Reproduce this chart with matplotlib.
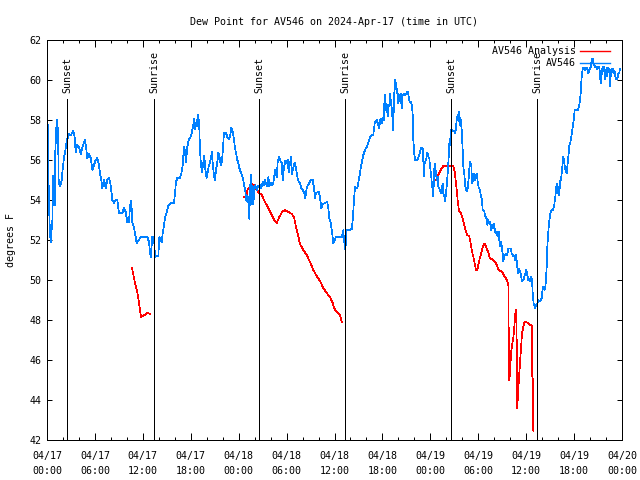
import numpy as np
import pandas as pd
import matplotlib
matplotlib.use('Agg')
import matplotlib.pyplot as plt
import matplotlib.dates as mdates
from matplotlib.lines import Line2D

# ==========================================
# DATA (hours after 2024-04-17 00:00 UTC, dew point in F)
# ==========================================
START = pd.Timestamp("2024-04-17 00:00")
END = pd.Timestamp("2024-04-20 00:00")

obs_hours = [
    0.08, 0.13, 0.25, 0.38, 0.50, 0.54, 0.67, 0.79, 0.88, 0.96, 1.04, 1.21, 1.30, 1.38, 1.46, 1.58,
    1.71, 1.84, 2.00, 2.13, 2.34, 2.46, 2.55, 2.75, 2.96, 3.17, 3.30, 3.46, 3.59, 3.80, 4.01, 4.22,
    4.42, 4.72, 4.84, 5.05, 5.26, 5.47, 5.68, 5.89, 6.09, 6.30, 6.51, 6.64, 6.80, 6.93, 7.14, 7.35,
    7.55, 7.76, 7.97, 8.18, 8.39, 8.60, 8.81, 8.89, 9.02, 9.43, 9.64, 9.85, 10.06, 10.27, 10.39,
    10.56, 10.68, 10.89, 11.10, 11.23, 11.52, 11.73, 12.15, 12.56, 12.77, 12.98, 13.19, 13.40,
    13.52, 13.65, 13.94, 14.07, 14.23, 14.36, 14.48, 14.65, 14.78, 14.98, 15.19, 15.40, 15.61,
    15.90, 16.03, 16.15, 16.32, 16.65, 16.86, 16.99, 17.15, 17.24, 17.32, 17.41, 17.57, 17.74,
    17.91, 18.12, 18.32, 18.45, 18.57, 18.74, 18.87, 18.95, 19.07, 19.16, 19.28, 19.41, 19.58,
    19.70, 19.83, 19.99, 20.08, 20.24, 20.41, 20.58, 20.66, 20.74, 20.91, 21.04, 21.16, 21.33,
    21.45, 21.58, 21.75, 21.91, 22.08, 22.16, 22.41, 22.58, 22.75, 22.92, 23.08, 23.25, 23.42,
    23.54, 23.67, 23.83, 23.96, 24.08, 24.25, 24.42, 24.58, 24.71, 24.84, 24.92, 25.00,
    25.09, 25.21, 25.34, 25.42, 25.54, 25.63, 25.75, 25.84, 25.96, 26.09, 26.25, 26.46, 26.67,
    26.84, 27.01, 27.17, 27.30, 27.51, 27.72, 27.84, 28.01, 28.17, 28.34, 28.47, 28.59, 28.76,
    28.88, 29.05, 29.18, 29.39, 29.51, 29.68, 29.84, 30.01, 30.14, 30.26, 30.43, 30.55, 30.68,
    30.85, 31.01, 31.18, 31.35, 31.51, 31.68, 31.85, 32.02, 32.18, 32.35, 32.52, 32.68, 32.85,
    33.02, 33.27, 33.43, 33.56, 33.68, 34.02, 34.18, 34.35, 34.52, 35.10, 35.23, 35.35, 35.52,
    35.69, 35.85, 36.02, 36.19, 36.90, 37.11, 37.19, 37.23, 37.27, 37.32, 37.36, 37.53,
    37.94, 38.15, 38.28, 38.36, 38.44, 38.57, 38.69, 38.86, 38.98, 39.11, 39.19, 39.32, 39.44,
    39.61, 39.82, 40.03, 40.24, 40.45, 40.66, 40.86, 40.95, 41.07, 41.28, 41.49, 41.61, 41.70,
    41.82, 41.95, 42.03, 42.16, 42.24, 42.32, 42.45, 42.53, 42.66, 42.78, 42.87, 42.95, 43.08,
    43.20, 43.33, 43.41, 43.49, 43.62, 43.70, 43.79, 43.87, 43.99, 44.12, 44.29, 44.41, 44.54,
    44.70, 44.87, 45.04, 45.16, 45.29, 45.41, 45.58, 45.71, 45.79, 45.87, 46.00, 46.12, 46.37,
    46.54, 46.71, 46.87, 47.04, 47.12, 47.21, 47.29, 47.46, 47.62, 47.75, 47.87, 47.96, 48.08,
    48.21, 48.38, 48.46, 48.54, 48.63, 48.71, 48.79, 48.92, 49.00, 49.13, 49.21, 49.34, 49.46,
    49.55, 49.63, 49.75, 49.88, 49.96, 50.05, 50.17, 50.30, 50.38,
    50.46, 50.55, 50.63, 50.96, 51.09, 51.21, 51.30, 51.42, 51.55, 51.63, 51.72, 51.80, 51.93,
    52.05, 52.13, 52.26, 52.38, 52.55, 52.68, 52.80, 52.89, 53.01, 53.14, 53.22, 53.34, 53.47,
    53.59, 53.72, 53.80, 53.93, 54.05, 54.22, 54.35, 54.47, 54.55, 54.76, 54.89, 55.06, 55.14,
    55.26, 55.39, 55.47, 55.60, 55.72, 55.85, 55.97, 56.10, 56.22, 56.31, 56.43, 56.56, 56.64,
    56.72, 56.81, 56.89, 56.97, 57.06, 57.14, 57.23, 57.35, 57.48, 57.64, 57.77, 58.06, 58.19,
    58.31, 58.39, 58.52, 58.64, 58.73, 58.89, 58.98, 59.10, 59.23, 59.35, 59.48, 59.65, 59.77,
    59.90, 60.02, 60.15, 60.27, 60.40, 60.48, 60.61, 60.73,
    60.82, 60.94, 61.11, 61.23, 61.40, 61.53, 61.65, 61.82, 61.94, 62.07, 62.15, 62.28, 62.40,
    62.48, 62.57, 62.65, 62.74, 62.82, 62.99, 63.11, 63.32, 63.49, 63.65, 63.78, 63.86, 63.99,
    64.07, 64.15, 64.24, 64.36, 64.45, 64.57, 64.66, 64.74, 64.86, 64.99, 65.07, 65.20, 65.32,
    65.41, 65.53, 65.66, 65.78, 65.91, 65.99, 66.07, 66.32, 66.49, 66.62, 66.74, 66.83, 66.91,
    66.99, 67.08, 67.16, 67.28, 67.41, 67.58, 67.70, 67.79, 67.91, 67.99, 68.12, 68.20, 68.33,
    68.41, 68.54, 68.66, 68.79, 68.91, 69.04, 69.16, 69.25, 69.33, 69.41, 69.50, 69.58, 69.66,
    69.75, 69.83, 69.91, 70.00, 70.08, 70.16, 70.25, 70.33, 70.41, 70.50, 70.58, 70.66, 70.75,
    70.83, 70.91, 71.00, 71.08, 71.16, 71.25, 71.41, 71.54, 71.66, 71.75, 71.83,
]
obs_dewpt = [
    57.85, 56.5, 53.75, 52.25, 51.9, 52.3, 53.0, 55.2, 54.8, 53.75, 56.4, 58.0, 57.3, 57.6, 55.0, 54.7,
    54.8, 55.0, 55.7, 56.1, 56.6, 56.95, 57.05, 57.3, 57.25, 57.35, 57.45, 57.15, 56.4, 56.75, 56.65, 56.3,
    56.6, 57.0, 56.8, 56.1, 56.3, 56.1, 55.5, 55.75, 56.0, 56.1, 55.75, 55.3, 55.0, 54.6, 55.0, 54.6,
    55.0, 55.1, 54.75, 54.0, 53.85, 54.0, 54.0, 53.7, 53.35, 53.35, 53.6, 53.4, 52.9, 52.9, 53.7,
    53.95, 52.9, 52.65, 52.15, 51.85, 52.0, 52.15, 52.15, 52.15, 51.9, 51.15, 52.15, 52.17,
    51.15, 51.2, 51.2, 52.15, 52.0, 51.9, 52.3, 52.75, 53.1, 53.4, 53.7, 53.8, 53.85,
    53.85, 54.35, 54.9, 55.1, 55.1, 55.4, 55.75, 56.65, 56.25, 56.5, 55.9, 56.65, 57.0,
    57.1, 57.35, 57.75, 58.05, 57.55, 58.0, 57.7, 58.25, 57.6, 56.5, 55.75, 55.4, 55.9,
    56.2, 55.5, 55.1, 55.3, 55.65, 55.9, 56.2, 56.4, 55.9, 55.2, 55.0, 55.5, 55.9,
    56.35, 56.25, 55.75, 55.9, 56.85, 57.35, 57.35, 57.15, 57.05, 57.15, 57.6, 57.4, 57.0,
    56.6, 56.35, 56.0, 55.85, 55.6, 55.4, 55.25, 55.0, 54.7, 54.4, 54.0, 54.25,
    53.9, 54.15, 53.05, 54.5, 55.25, 53.8, 54.7, 53.8, 54.5, 54.75, 54.5, 54.7, 54.75,
    54.6, 54.9, 54.75, 55.0, 54.7, 55.15, 54.7, 54.85, 54.75, 54.85, 55.25, 55.5, 55.15,
    55.85, 56.15, 56.0, 55.85, 55.0, 55.65, 55.95, 55.85, 56.0, 55.4, 55.85, 56.15, 55.3,
    55.65, 55.85, 55.6, 55.15, 54.9, 54.85, 54.6, 54.5, 54.4, 54.1, 54.6, 54.75, 54.85,
    55.0, 55.0, 54.6, 54.1, 54.35, 54.4, 54.15, 53.6, 53.8, 53.9, 53.55, 53.1, 52.85,
    52.4, 51.85, 52.0, 52.15, 52.15, 52.5, 51.9, 52.2, 51.8, 52.1, 51.5, 52.5,
    52.5, 52.55, 53.0, 53.5, 54.0, 54.67, 54.6, 54.6, 54.85, 55.17, 55.33, 55.67, 55.9,
    56.25, 56.5, 56.65, 56.87, 57.13, 57.25, 57.25, 57.58, 57.92, 58.0, 57.75, 57.6, 58.0,
    58.08, 57.85, 58.13, 58.0, 58.83, 59.25, 58.5, 58.8, 58.17, 58.75, 58.67, 59.33, 58.83,
    58.5, 57.5, 58.5, 59.33, 60.03, 59.67, 59.33, 59.58, 58.83, 59.17, 59.33, 58.58, 59.25,
    59.33, 59.25, 59.37, 59.42, 59.17, 58.9, 58.9, 58.67, 58.25, 57.0, 56.25, 56.0, 56.0,
    56.17, 56.42, 56.63, 56.58, 56.0, 55.17, 55.83, 56.0, 56.37, 56.17, 56.08, 55.67, 55.33,
    54.75, 54.17, 55.33, 55.83, 55.58, 55.33, 55.0, 55.17, 54.67, 54.58, 54.5, 54.33, 54.58,
    54.83, 54.33, 54.2, 53.92, 54.42, 54.67, 55.33, 56.17, 56.83,
    56.75, 57.42, 57.5, 57.45, 57.33, 57.58, 58.0, 58.25, 57.92, 58.42, 57.75, 58.0, 57.5,
    56.5, 55.67, 55.25, 54.67, 54.42, 54.58, 55.08, 55.58, 55.92, 55.67, 54.83, 55.0, 55.33,
    55.0, 55.17, 55.33, 54.92, 54.63, 54.5, 54.17, 54.0, 53.5, 53.42, 53.17, 53.08, 52.75,
    53.0, 52.83, 52.92, 52.5, 52.75, 52.58, 52.83, 52.42, 52.33, 52.42, 52.17, 52.42, 52.0,
    51.67, 51.83, 51.92, 51.58, 51.33, 50.92, 51.17, 51.25, 51.33, 51.25, 51.58, 51.58, 51.33,
    51.25, 51.17, 51.2, 51.0, 51.25, 50.67, 50.33, 50.58, 50.42, 50.25, 49.92, 50.0, 50.17,
    50.33, 50.5, 50.25, 50.0, 50.08, 49.92, 50.17, 50.0,
    49.33, 48.83, 48.58, 48.75, 48.83, 49.0, 48.92, 49.0, 49.08, 49.58, 49.67, 49.5, 49.67,
    50.0, 50.67, 51.67, 52.17, 52.67, 53.25, 53.47, 53.5, 53.67, 54.17, 54.67, 54.83, 54.33,
    54.67, 54.25, 54.92, 55.0, 55.33, 55.83, 56.17, 56.0, 55.58, 55.42, 55.33, 55.83, 56.33,
    56.75, 56.87, 57.17, 57.5, 57.83, 58.08, 58.5, 58.5, 58.5, 58.67, 59.0, 59.33, 59.92,
    60.33, 60.53, 60.63, 60.63, 60.5, 60.63, 60.5, 60.33, 60.47, 60.58, 60.67, 61.08, 61.05,
    60.87, 60.75, 60.63, 60.67, 60.53, 60.67, 60.63, 60.25, 59.83, 60.17, 60.42, 60.67, 60.42,
    60.67, 60.33, 60.03, 60.42, 60.63, 60.17, 60.63, 60.5, 60.58, 59.67, 60.17, 60.5, 60.58,
    60.37, 60.58, 60.33, 60.42, 60.17, 60.03, 60.03, 60.33, 60.37, 60.58, 60.58,
]

# analysis series has gaps (nan separates the pieces)
nan = float("nan")
ana_hours = [
    10.64, 11.0, 11.4, 11.77, 12.2, 12.6, 12.9, nan,
    24.67, 25.00, 25.09, 25.63, 25.92, 26.25, 26.59, 26.88, 27.30, 27.72, 28.13, 28.47, 28.76,
    29.09, 29.43, 29.80, 30.22, 30.64, 30.93, 31.18, 31.43, 31.68, 32.10, 32.52, 32.93, 33.35,
    33.77, 34.18, 34.60, 35.02, 35.44, 35.77, 35.94, 36.27, 36.61, 36.77, 36.90, nan,
    48.59, 48.88, 49.00, 49.21, 49.42, 49.63, 50.88, 51.05, 51.17, 51.30, 51.42, 51.55, 51.63,
    51.84, 51.97, 52.13, 52.30, 52.47, 52.63, 52.89, 53.05, 53.22, 53.38, 53.55, 53.72, 53.84,
    53.97, 54.14, 54.30, 54.47, 54.64, 54.80, 54.97, 55.14, 55.31, 55.47, 55.89, 56.06, 56.22,
    56.39, 56.56, 56.97, 57.14, 57.31, 57.48, 57.64, 57.77, 57.81, 57.89, 57.98, 58.10, 58.23,
    58.39, 58.52, 58.64, 58.73, 58.77, 58.81, 58.89, 58.98, 59.14, 59.31, 59.48, 59.65, 59.77,
    59.94, 60.40, 60.69, 60.77, 60.86, 60.90,
]
ana_dewpt = [
    50.6, 49.9, 49.2, 48.15, 48.25, 48.35, 48.3, nan,
    54.15, 54.15, 54.5, 54.8, 54.75, 54.5, 54.35, 54.25, 53.9, 53.6, 53.25, 53.0, 52.85,
    53.15, 53.4, 53.5, 53.4, 53.3, 53.15, 52.65, 52.25, 51.8, 51.5, 51.25, 50.9, 50.5,
    50.2, 49.95, 49.6, 49.35, 49.15, 48.85, 48.6, 48.4, 48.3, 48.15, 47.9, nan,
    55.0, 55.0, 55.25, 55.42, 55.58, 55.7, 55.7, 55.42, 55.0, 54.5, 54.0, 53.58, 53.42,
    53.33, 53.17, 52.92, 52.67, 52.42, 52.25, 52.17, 51.83, 51.42, 51.17, 50.83, 50.5, 50.47,
    50.67, 51.0, 51.25, 51.5, 51.75, 51.83, 51.67, 51.5, 51.3, 51.08, 51.0, 50.92, 50.83,
    50.67, 50.5, 50.42, 50.3, 50.17, 50.08, 49.92, 49.75, 47.5, 45.0, 45.33, 46.33, 46.75,
    47.08, 47.67, 48.33, 48.0, 48.5, 47.0, 43.58, 44.33, 45.33, 46.33, 47.33, 47.67, 47.87,
    47.92, 47.8, 47.7, 45.17, 45.0, 42.42,
]

event_names = ["Sunset", "Sunrise", "Sunset", "Sunrise", "Sunset", "Sunrise"]
event_hours = [2.55, 13.44, 26.59, 37.36, 50.63, 61.40]

TITLE = "Dew Point for AV546 on 2024-Apr-17 (time in UTC)"
FONT = "DejaVu Sans Mono"
FS = 7.2
LW = 0.72  # one pixel at 100 dpi
RED = "#ff0000"
BLUE = "#0080ff"


def to_time(hours):
    return START + pd.to_timedelta(np.array(hours, dtype=float), unit="h")


fig = plt.figure(figsize=(6.4, 4.8), dpi=100)
ax = fig.add_axes([47 / 640, 40 / 480, 575 / 640, 400 / 480])

ax.plot(to_time(ana_hours), ana_dewpt, color=RED, lw=0.5, antialiased=False)
ax.plot(to_time(obs_hours), obs_dewpt, color=BLUE, lw=0.5, antialiased=False)

# sunrise / sunset markers
for name, h in zip(event_names, event_hours):
    t = to_time([h])[0]
    ax.plot([t, t], [42, 59.05], color="black", lw=LW, antialiased=False)
    ax.text(t, 59.35, name, rotation=90, ha="center", va="bottom",
            family=FONT, fontsize=FS)

ax.set_xlim(START, END)
ax.set_ylim(42, 62)
ax.set_yticks(np.arange(42, 63, 2))
ax.xaxis.set_major_locator(mdates.HourLocator(byhour=range(0, 24, 6)))
ax.xaxis.set_minor_locator(mdates.HourLocator(byhour=range(0, 24, 2)))
ax.xaxis.set_major_formatter(mdates.DateFormatter("%m/%d\n%H:%M"))

ax.tick_params(axis="both", which="both", direction="in", top=True, right=True,
               width=LW, labelsize=FS)
ax.tick_params(axis="x", which="major", length=5, pad=8)
ax.tick_params(axis="x", which="minor", length=2.5)
ax.tick_params(axis="y", which="major", length=3.5, pad=4)
for lab in ax.get_xticklabels():
    lab.set_family(FONT)
    lab.set_linespacing(1.55)
for lab in ax.get_yticklabels():
    lab.set_family(FONT)
for sp in ax.spines.values():
    sp.set_linewidth(LW)

ax.set_ylabel("degrees F", family=FONT, fontsize=FS, labelpad=10)
ax.set_title(TITLE, family=FONT, fontsize=FS, pad=11)

# legend with text left of the line sample, like the gnuplot key
handles = [Line2D([], [], color=RED, lw=1.0), Line2D([], [], color=BLUE, lw=1.0)]
ax.legend(handles, ["AV546 Analysis", "AV546"], loc="upper right",
          bbox_to_anchor=(1 - 4 / 575, 1 + 2 / 400), frameon=False, markerfirst=False,
          prop={"family": FONT, "size": FS}, handlelength=3.0,
          handletextpad=0.4, labelspacing=0.25, borderaxespad=0.4)

fig.savefig("out.png", dpi=100)
